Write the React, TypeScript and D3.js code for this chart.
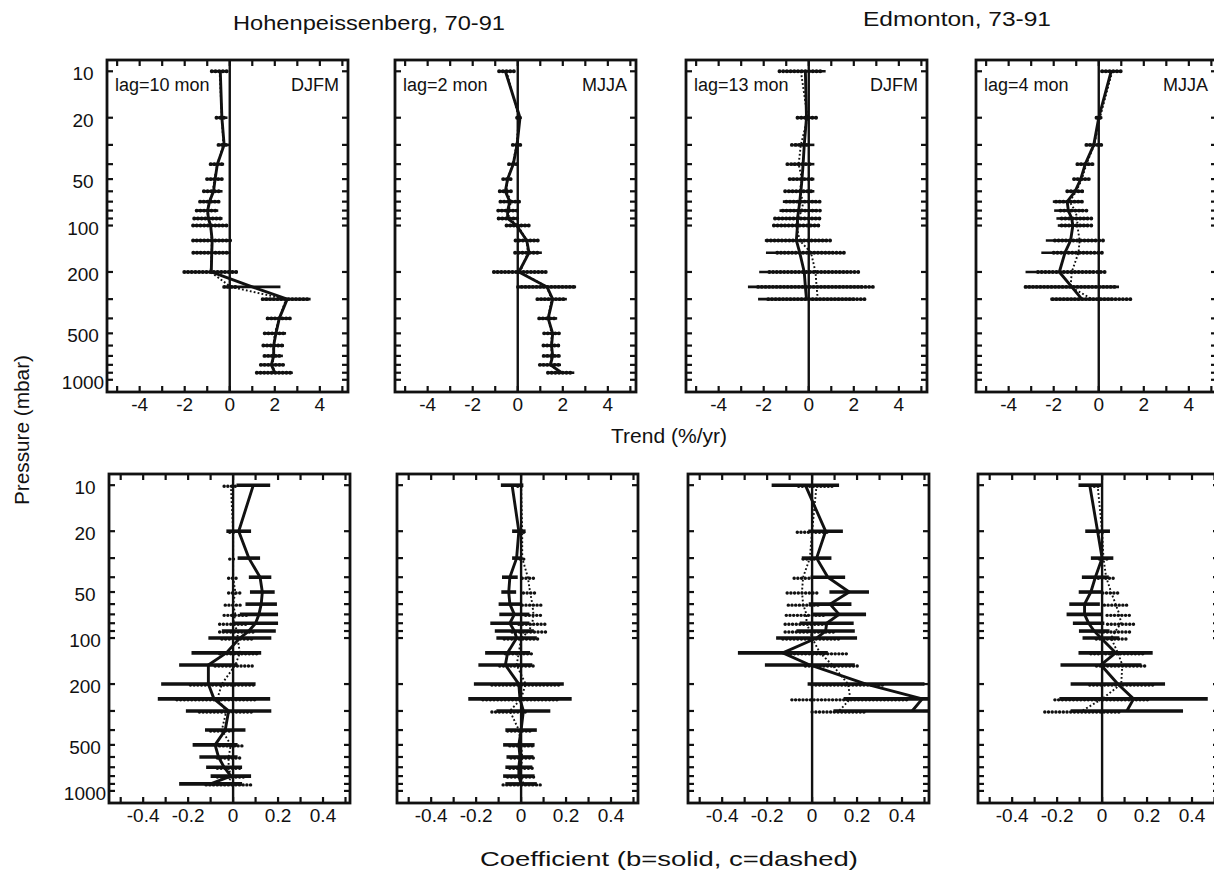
import React from 'react';
import * as d3 from 'd3';

// ---------- DATA ----------
const levelsH = [10, 20, 30, 40, 50, 60, 70, 80, 90, 100, 125, 150, 200, 250, 300, 400, 500, 600, 700, 800, 900];
const levelsE = [10, 20, 30, 40, 50, 60, 70, 80, 90, 100, 125, 150, 200, 250, 300];

// Trend (%/yr) – Hohenpeissenberg DJFM
const hohDjfmTrendB = [-0.42, -0.35, -0.25, -0.55, -0.65, -0.72, -0.9, -0.98, -0.95, -0.85, -0.78, -0.8, -0.82, 1.0, 2.55, 2.2, 2.05, 1.95, 1.95, 1.85, 2.0];
const hohDjfmTrendBErr = [0.35, 0.25, 0.22, 0.3, 0.33, 0.4, 0.42, 0.47, 0.63, 0.78, 0.83, 0.82, 1.17, 1.25, 1.04, 0.52, 0.45, 0.46, 0.41, 0.52, 0.8];
const hohDjfmTrendC = [-0.45, -0.35, -0.28, -0.55, -0.68, -0.75, -0.9, -1.0, -0.95, -0.85, -0.8, -0.8, -0.85, 0.05, 2.5, 2.2, 2.0, 1.95, 1.95, 1.9, 2.0];
const hohDjfmTrendCErr = [0.35, 0.24, 0.22, 0.3, 0.33, 0.4, 0.42, 0.47, 0.63, 0.78, 0.83, 0.82, 1.17, 0.3, 1.04, 0.52, 0.45, 0.46, 0.41, 0.52, 0.8];

// Trend – Hohenpeissenberg MJJA
const hohMjjaTrendB = [-0.55, 0.1, -0.03, -0.2, -0.45, -0.55, -0.35, -0.45, -0.45, -0.05, 0.4, 0.5, 0.05, 1.3, 1.55, 1.35, 1.55, 1.5, 1.55, 1.45, 1.95];
const hohMjjaTrendBErr = [0.33, 0.08, 0.17, 0.17, 0.2, 0.3, 0.47, 0.47, 0.45, 0.5, 0.5, 0.57, 1.16, 1.29, 0.63, 0.4, 0.33, 0.36, 0.35, 0.47, 0.56];
const hohMjjaTrendC = [-0.5, 0.05, -0.05, -0.22, -0.45, -0.5, -0.3, -0.4, -0.4, 0.0, 0.4, 0.45, 0.1, 1.3, 1.5, 1.35, 1.5, 1.5, 1.5, 1.45, 1.9];
const hohMjjaTrendCErr = [0.33, 0.08, 0.17, 0.17, 0.2, 0.3, 0.47, 0.47, 0.45, 0.5, 0.5, 0.57, 1.16, 1.29, 0.63, 0.4, 0.33, 0.36, 0.35, 0.47, 0.56];

// Trend – Edmonton DJFM
const edmDjfmTrendB = [-0.15, -0.1, -0.2, -0.25, -0.3, -0.35, -0.4, -0.45, -0.5, -0.5, -0.55, -0.4, -0.2, -0.15, -0.1];
const edmDjfmTrendBErr = [0.9, 0.45, 0.45, 0.5, 0.55, 0.6, 0.75, 0.85, 1.0, 1.0, 1.4, 1.5, 2.0, 2.55, 2.15];
const edmDjfmTrendC = [-0.35, -0.05, -0.35, -0.45, -0.3, -0.4, -0.25, -0.3, -0.5, -0.55, -0.4, 0.1, 0.3, 0.35, 0.4];
const edmDjfmTrendCErr = [0.95, 0.45, 0.4, 0.5, 0.55, 0.65, 0.75, 0.85, 1.0, 1.0, 1.45, 1.5, 2.05, 2.6, 2.2];

// Trend – Edmonton MJJA
const edmMjjaTrendB = [0.55, 0.0, -0.22, -0.6, -0.8, -1.05, -1.4, -1.35, -1.2, -1.15, -1.25, -1.5, -1.75, -1.2, -0.75];
const edmMjjaTrendBErr = [0.47, 0.16, 0.36, 0.4, 0.33, 0.39, 0.64, 0.63, 0.68, 0.67, 1.1, 1.05, 1.5, 2.1, 1.4];
const edmMjjaTrendC = [0.6, 0.05, -0.2, -0.55, -0.75, -1.0, -1.3, -1.05, -0.95, -0.95, -0.85, -0.9, -1.2, -1.25, -0.3];
const edmMjjaTrendCErr = [0.45, 0.15, 0.35, 0.4, 0.35, 0.4, 0.6, 0.65, 0.7, 0.7, 1.1, 1.1, 1.5, 2.0, 1.75];

// Coefficient – Hohenpeissenberg DJFM
const hohDjfmCoefB = [0.09, 0.025, 0.07, 0.12, 0.13, 0.125, 0.115, 0.1, 0.07, 0.03, -0.03, -0.11, -0.11, -0.085, -0.02, -0.035, -0.08, -0.065, -0.04, -0.01, -0.1];
const hohDjfmCoefBErr = [0.075, 0.055, 0.05, 0.05, 0.055, 0.07, 0.085, 0.1, 0.12, 0.14, 0.155, 0.13, 0.21, 0.25, 0.19, 0.09, 0.1, 0.085, 0.08, 0.09, 0.14];
const hohDjfmCoefC = [-0.01, 0.0, 0.0, 0.0, 0.01, 0.0, 0.01, 0.0, 0.02, 0.02, 0.03, 0.01, -0.05, -0.07, -0.03, -0.05, -0.01, -0.02, -0.02, -0.01, -0.02];
const hohDjfmCoefCErr = [0.03, 0.015, 0.015, 0.02, 0.03, 0.035, 0.05, 0.06, 0.08, 0.07, 0.09, 0.09, 0.14, 0.18, 0.12, 0.05, 0.05, 0.05, 0.05, 0.06, 0.1];

// Coefficient – Hohenpeissenberg MJJA
const hohMjjaCoefB = [-0.04, -0.01, -0.02, -0.05, -0.055, -0.05, -0.03, -0.05, -0.03, -0.02, -0.06, -0.07, -0.01, -0.005, 0.01, 0.0, -0.01, -0.005, -0.01, -0.01, 0.0];
const hohMjjaCoefBErr = [0.05, 0.03, 0.02, 0.035, 0.033, 0.05, 0.067, 0.087, 0.087, 0.09, 0.1, 0.12, 0.2, 0.23, 0.12, 0.07, 0.07, 0.06, 0.06, 0.07, 0.07];
const hohMjjaCoefC = [0.0, 0.005, 0.005, 0.03, 0.04, 0.05, 0.055, 0.05, 0.035, 0.0, -0.01, -0.02, 0.02, 0.0, -0.05, -0.01, 0.0, 0.005, 0.0, 0.0, 0.01];
const hohMjjaCoefCErr = [0.015, 0.01, 0.01, 0.025, 0.03, 0.045, 0.035, 0.06, 0.075, 0.075, 0.06, 0.075, 0.15, 0.17, 0.08, 0.05, 0.05, 0.05, 0.05, 0.06, 0.09];

// Coefficient – Edmonton DJFM
const edmDjfmCoefB = [-0.03, 0.06, 0.02, 0.07, 0.165, 0.08, 0.12, 0.065, 0.06, 0.02, -0.13, -0.01, 0.24, 0.49, 0.445];
const edmDjfmCoefBErr = [0.15, 0.077, 0.066, 0.077, 0.088, 0.095, 0.12, 0.12, 0.13, 0.18, 0.2, 0.2, 0.26, 0.35, 0.35];
const edmDjfmCoefC = [0.02, 0.0, -0.01, -0.04, -0.045, -0.04, -0.025, -0.025, -0.01, 0.0, 0.035, 0.09, 0.16, 0.17, 0.12];
const edmDjfmCoefCErr = [0.08, 0.066, 0.03, 0.04, 0.066, 0.066, 0.09, 0.095, 0.11, 0.13, 0.13, 0.12, 0.16, 0.26, 0.12];

// Coefficient – Edmonton MJJA
const edmMjjaCoefB = [-0.055, -0.02, 0.0, -0.03, -0.05, -0.078, -0.078, -0.06, -0.035, -0.005, 0.06, -0.005, 0.07, 0.14, 0.11];
const edmMjjaCoefBErr = [0.05, 0.055, 0.05, 0.06, 0.054, 0.068, 0.08, 0.07, 0.068, 0.082, 0.165, 0.18, 0.21, 0.33, 0.25];
const edmMjjaCoefC = [-0.02, 0.0, 0.006, 0.018, 0.04, 0.06, 0.077, 0.084, 0.06, 0.04, 0.07, 0.09, 0.085, 0.0, -0.09];
const edmMjjaCoefCErr = [0.015, 0.015, 0.018, 0.035, 0.037, 0.05, 0.055, 0.06, 0.07, 0.066, 0.12, 0.115, 0.14, 0.21, 0.165];

const lagLabels = ['lag=10 mon', 'lag=2 mon', 'lag=13 mon', 'lag=4 mon'];
const seasonLabels = ['DJFM', 'MJJA', 'DJFM', 'MJJA'];
const stationTitles = ['Hohenpeissenberg, 70-91', 'Edmonton, 73-91'];

const xTicksTopLabels = [-4, -2, 0, 2, 4];
const xTicksBottomLabels = [-0.4, -0.2, 0, 0.2, 0.4];
const yTickLabels = [10, 20, 50, 100, 200, 500, 1000];
const yMinorTicks = [10, 20, 30, 40, 50, 60, 70, 80, 90, 100, 200, 300, 400, 500, 600, 700, 800, 900, 1000];

// ---------- LAYOUT ----------
const FONT = '"Liberation Sans", Arial, Helvetica, sans-serif';
const PW = 241;
const rows = [
  { y0: 60, y1: 392, lefts: [107, 395, 686, 976], xDomain: [-5.45, 5.25], minor: d3.range(-5, 6, 1), labels: xTicksTopLabels },
  { y0: 474, y1: 803, lefts: [109, 397, 688, 978], xDomain: [-0.552, 0.52], minor: d3.range(-5, 6, 1).map((i) => i / 10), labels: xTicksBottomLabels },
];

const panelData = [
  [
    { levels: levelsH, b: hohDjfmTrendB, bErr: hohDjfmTrendBErr, c: hohDjfmTrendC, cErr: hohDjfmTrendCErr },
    { levels: levelsH, b: hohMjjaTrendB, bErr: hohMjjaTrendBErr, c: hohMjjaTrendC, cErr: hohMjjaTrendCErr },
    { levels: levelsE, b: edmDjfmTrendB, bErr: edmDjfmTrendBErr, c: edmDjfmTrendC, cErr: edmDjfmTrendCErr },
    { levels: levelsE, b: edmMjjaTrendB, bErr: edmMjjaTrendBErr, c: edmMjjaTrendC, cErr: edmMjjaTrendCErr },
  ],
  [
    { levels: levelsH, b: hohDjfmCoefB, bErr: hohDjfmCoefBErr, c: hohDjfmCoefC, cErr: hohDjfmCoefCErr },
    { levels: levelsH, b: hohMjjaCoefB, bErr: hohMjjaCoefBErr, c: hohMjjaCoefC, cErr: hohMjjaCoefCErr },
    { levels: levelsE, b: edmDjfmCoefB, bErr: edmDjfmCoefBErr, c: edmDjfmCoefC, cErr: edmDjfmCoefCErr },
    { levels: levelsE, b: edmMjjaCoefB, bErr: edmMjjaCoefBErr, c: edmMjjaCoefC, cErr: edmMjjaCoefCErr },
  ],
];

const INK = '#111';

function Panel({ r, i }: { r: number; i: number }) {
  const row = rows[r];
  const left = row.lefts[i];
  const right = left + PW;
  const d = panelData[r][i];
  const x = d3.scaleLinear().domain(row.xDomain).range([left, right]);
  const y = d3.scaleLog().domain([8.45, 1200]).range([row.y0, row.y1]);
  const clipId = `clip-${r}-${i}`;
  const line = d3
    .line<number>()
    .x((v) => x(v))
    .y((_, k) => y(d.levels[k]));
  const top = r === 0;
  const fmt = (v: number) => (v === 0 ? '0' : top ? String(v) : v.toFixed(1));
  return (
    <g>
      <defs>
        <clipPath id={clipId}>
          <rect x={left} y={row.y0} width={PW} height={row.y1 - row.y0} />
        </clipPath>
      </defs>
      <line x1={x(0)} x2={x(0)} y1={row.y0} y2={row.y1} stroke={INK} strokeWidth={2.4} />
      <g clipPath={`url(#${clipId})`}>
        {d.c.map((v, k) => (
          <line
            key={`ce${k}`}
            x1={x(v - d.cErr[k])}
            x2={x(v + d.cErr[k])}
            y1={y(d.levels[k]) + (top ? 0 : 1)}
            y2={y(d.levels[k]) + (top ? 0 : 1)}
            stroke={INK}
            strokeWidth={top ? 3.9 : 3.4}
            strokeLinecap="round"
            strokeDasharray="0.1 3.6"
          />
        ))}
        {d.b.map((v, k) => (
          <line
            key={`be${k}`}
            x1={x(v - d.bErr[k])}
            x2={x(v + d.bErr[k])}
            y1={y(d.levels[k])}
            y2={y(d.levels[k])}
            stroke={INK}
            strokeWidth={top ? 2.6 : 3.6}
          />
        ))}
        <path d={line(d.c) || ''} fill="none" stroke={INK} strokeWidth={1.9} strokeDasharray="1.8 2.2" />
        <path d={line(d.b) || ''} fill="none" stroke={INK} strokeWidth={2.9} strokeLinejoin="round" />
      </g>
      <rect x={left} y={row.y0} width={PW} height={row.y1 - row.y0} fill="none" stroke={INK} strokeWidth={2.8} />
      {row.minor.map((t) => (
        <g key={`xt${t}`}>
          <line x1={x(t)} x2={x(t)} y1={row.y1} y2={row.y1 - 6} stroke={INK} strokeWidth={2.2} />
          <line x1={x(t)} x2={x(t)} y1={row.y0} y2={row.y0 + 6} stroke={INK} strokeWidth={2.2} />
        </g>
      ))}
      {yMinorTicks.map((t) => (
        <g key={`yt${t}`}>
          <line x1={left} x2={left + 6} y1={y(t)} y2={y(t)} stroke={INK} strokeWidth={2.2} />
          <line x1={right} x2={right - 6} y1={y(t)} y2={y(t)} stroke={INK} strokeWidth={2.2} />
        </g>
      ))}
      {row.labels.map((t) => (
        <text key={`xl${t}`} x={x(t)} y={row.y1 + 19} textAnchor="middle" fontSize={19} fill={INK}>
          {fmt(t)}
        </text>
      ))}
      {i === 0 &&
        yTickLabels.map((t) => (
          <text key={`yl${t}`} x={left - 24} y={y(t) + 9} textAnchor="middle" fontSize={19} fill={INK}>
            {t}
          </text>
        ))}
      {top && (
        <>
          <text x={left + 8} y={row.y0 + 31} fontSize={18} fill={INK}>
            {lagLabels[i]}
          </text>
          <text x={right - 9} y={row.y0 + 31} fontSize={18} textAnchor="end" fill={INK}>
            {seasonLabels[i]}
          </text>
        </>
      )}
    </g>
  );
}

export default function App() {
  return (
    <svg
      width={1214}
      height={871}
      style={{ position: 'absolute', left: 0, top: 0, background: '#fff', fontFamily: FONT }}
    >
      <rect x={0} y={0} width={1214} height={871} fill="#fff" />
      <text x={369} y={30} textAnchor="middle" fontSize={21} textLength={272} lengthAdjust="spacingAndGlyphs" fill={INK}>
        {stationTitles[0]}
      </text>
      <text x={957} y={26} textAnchor="middle" fontSize={21} textLength={188} lengthAdjust="spacingAndGlyphs" fill={INK}>
        {stationTitles[1]}
      </text>
      {[0, 1].map((r) => [0, 1, 2, 3].map((i) => <Panel key={`${r}-${i}`} r={r} i={i} />))}
      <text x={669} y={443} textAnchor="middle" fontSize={21} textLength={116} lengthAdjust="spacingAndGlyphs" fill={INK}>
        Trend (%/yr)
      </text>
      <text x={669} y={866} textAnchor="middle" fontSize={21} textLength={378} lengthAdjust="spacingAndGlyphs" fill={INK}>
        Coefficient (b=solid, c=dashed)
      </text>
      <text
        transform="translate(29,430) rotate(-90)"
        textAnchor="middle"
        fontSize={21}
        textLength={150}
        lengthAdjust="spacingAndGlyphs"
        fill={INK}
      >
        Pressure (mbar)
      </text>
    </svg>
  );
}
